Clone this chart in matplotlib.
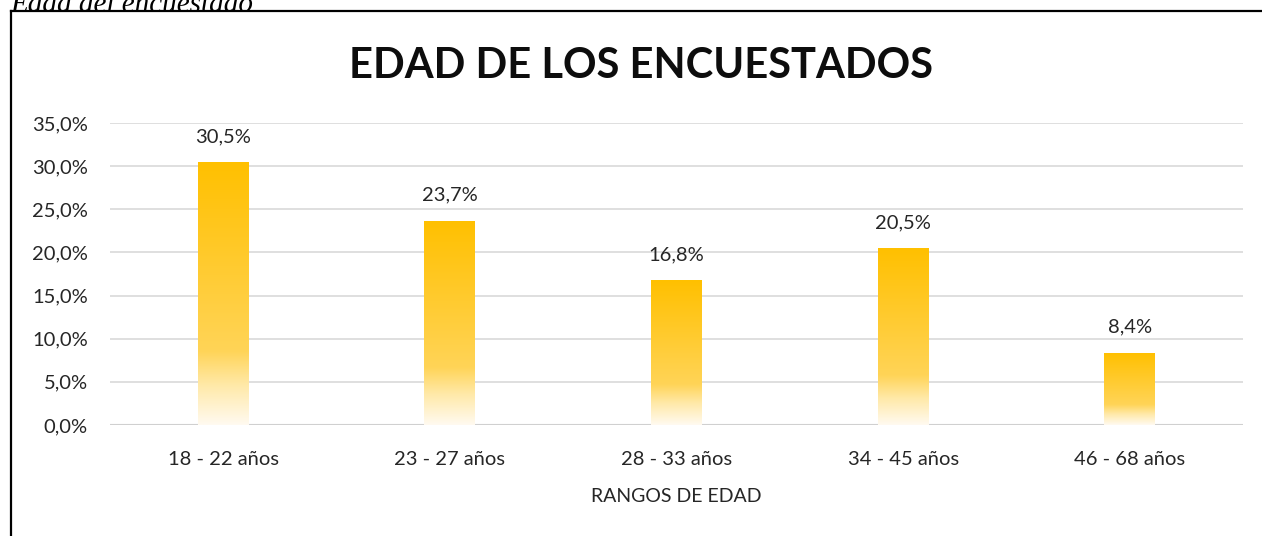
import numpy as np
import matplotlib.pyplot as plt
from matplotlib.colors import LinearSegmentedColormap
from matplotlib.lines import Line2D

# Data
categorias = ['18 - 22 años', '23 - 27 años', '28 - 33 años', '34 - 45 años', '46 - 68 años']
porcentajes = [30.5, 23.7, 16.8, 20.5, 8.4]
yticks = [0, 5, 10, 15, 20, 25, 30, 35]

plt.rcParams['font.family'] = ['Lato', 'DejaVu Sans']

fig = plt.figure(figsize=(12.62, 5.36), dpi=100)
ax = fig.add_axes([0.0872, 0.2071, 0.8978, 0.5634])

# Gradient: gold at the top fading to white at the bottom
grad = LinearSegmentedColormap.from_list('oro', [
    (0.0, '#FFFAF0'),
    (0.15, '#FFE9A8'),
    (0.28, '#FFD457'),
    (1.0, '#FFC000'),
])
gimg = np.linspace(0, 1, 256).reshape(-1, 1)

x = np.arange(len(categorias))
ancho = 0.225
barras = ax.bar(x, porcentajes, width=ancho, color='none', edgecolor='none', zorder=3)
for b in barras:
    x0, y0 = b.get_x(), b.get_y()
    im = ax.imshow(gimg, cmap=grad, origin='lower', aspect='auto',
                   extent=[x0, x0 + b.get_width(), y0, y0 + b.get_height()],
                   zorder=3, interpolation='bilinear')
    im.set_clip_path(b)

for xi, v in zip(x, porcentajes):
    ax.annotate(f'{v:.1f}%'.replace('.', ','), (xi, v), xytext=(0, 12),
                textcoords='offset points', ha='center', va='bottom',
                fontsize=14.5, color='#262626')

ax.set_xlim(-0.5, len(categorias) - 0.5)
ax.set_ylim(0, 35)
ax.set_yticks(yticks)
ax.set_yticklabels([f'{t:.1f}%'.replace('.', ',') for t in yticks])
ax.set_xticks(x)
ax.set_xticklabels(categorias)
ax.tick_params(axis='both', length=0, labelsize=14.5, labelcolor='#262626')
ax.tick_params(axis='y', pad=16)
ax.tick_params(axis='x', pad=19)
ax.grid(axis='y', color='#D9D9D9', linewidth=1.2, zorder=0)
ax.set_axisbelow(True)
for s in ax.spines.values():
    s.set_visible(False)
ax.axhline(0, color='#D0D0D0', linewidth=1.5, zorder=2)

ax.set_xlabel('RANGOS DE EDAD', fontsize=14, color='#262626', labelpad=14)

fig.text(0.508, 0.877, 'EDAD DE LOS ENCUESTADOS', ha='center', va='center',
         fontsize=30, fontweight='bold', color='#0D0D0D')

# Caption above the chart box (cut at the top edge, as in the source)
fig.text(0.008, 0.977, 'Edad del encuestado', ha='left', va='baseline',
         fontsize=21, fontstyle='italic', family='Liberation Serif')

# Chart border (only left and top edges visible)
fig.add_artist(Line2D([0.0087, 0.0087], [-0.01, 1 - 11 / 536], transform=fig.transFigure,
                      color='black', linewidth=1.6))
fig.add_artist(Line2D([0.0087, 1.01], [1 - 11 / 536, 1 - 11 / 536], transform=fig.transFigure,
                      color='black', linewidth=1.6))

fig.savefig('out.png', dpi=100)
